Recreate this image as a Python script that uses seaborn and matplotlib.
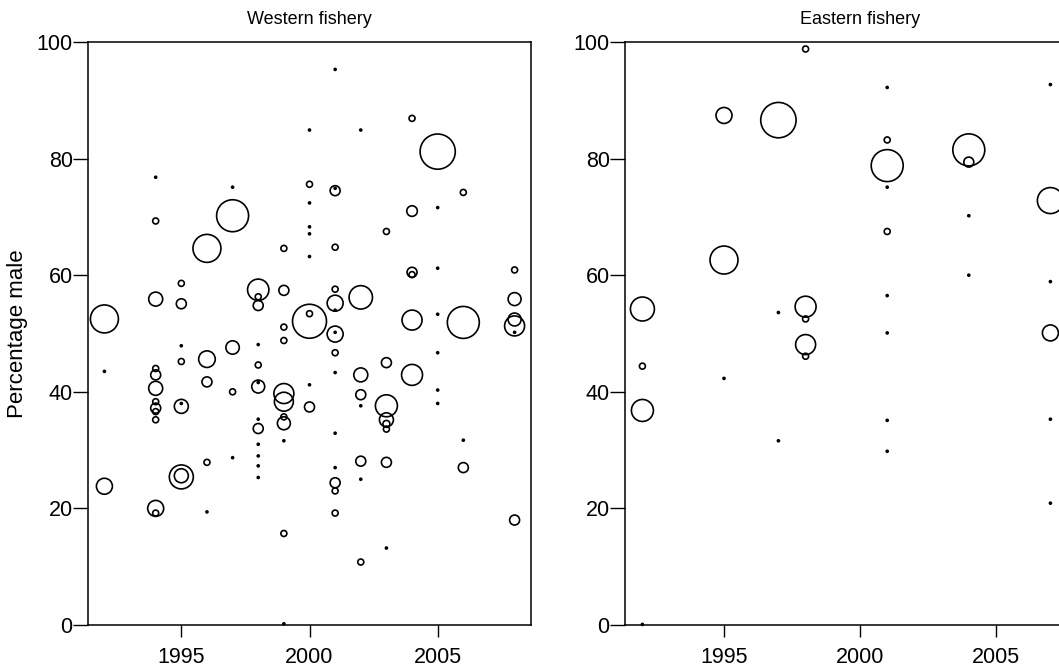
import numpy as np
import pandas as pd
import matplotlib
matplotlib.use("Agg")
import matplotlib.pyplot as plt
import seaborn as sns

# ---------------- data ----------------
west_year = [1992, 1992, 1992,
             1994, 1994, 1994, 1994, 1994, 1994, 1994, 1994, 1994, 1994, 1994, 1994,
             1995, 1995, 1995, 1995, 1995, 1995, 1995, 1995,
             1996, 1996, 1996, 1996, 1996,
             1997, 1997, 1997, 1997, 1997,
             1998, 1998, 1998, 1998, 1998, 1998, 1998, 1998, 1998, 1998, 1998, 1998, 1998,
             1999, 1999, 1999, 1999, 1999, 1999, 1999, 1999, 1999, 1999, 1999,
             2000, 2000, 2000, 2000, 2000, 2000, 2000, 2000, 2000, 2000,
             2001, 2001, 2001, 2001, 2001, 2001, 2001, 2001, 2001, 2001, 2001, 2001, 2001, 2001, 2001, 2001,
             2002, 2002, 2002, 2002, 2002, 2002, 2002, 2002,
             2003, 2003, 2003, 2003, 2003, 2003, 2003, 2003,
             2004, 2004, 2004, 2004, 2004, 2004,
             2005, 2005, 2005, 2005, 2005, 2005, 2005,
             2006, 2006, 2006, 2006,
             2008, 2008, 2008, 2008, 2008, 2008]
west_pct = [52.5, 43.5, 23.8,
            76.8, 69.3, 55.9, 44.0, 42.9, 40.6, 38.3, 37.2, 36.6, 35.2, 20.0, 19.2,
            58.6, 55.1, 47.9, 45.2, 37.5, 38.0, 25.4, 25.6,
            64.6, 45.6, 41.7, 27.9, 19.4,
            75.1, 70.2, 47.6, 40.0, 28.7,
            57.5, 56.3, 54.8, 48.1, 44.6, 41.6, 40.9, 35.3, 33.7, 31.0, 29.0, 27.3, 25.3,
            64.6, 57.4, 51.1, 48.8, 39.7, 38.3, 35.7, 34.6, 31.6, 15.7, 0.2,
            84.9, 75.6, 72.4, 68.3, 67.1, 63.2, 53.4, 52.1, 41.2, 37.4,
            95.3, 74.5, 74.9, 64.8, 57.6, 55.2, 54.0, 49.9, 50.2, 46.7, 43.3, 32.9, 27.0, 24.4, 23.0, 19.2,
            84.9, 56.2, 42.9, 39.5, 37.6, 28.1, 25.0, 10.8,
            67.5, 45.0, 37.6, 35.2, 34.5, 33.6, 27.9, 13.2,
            86.9, 71.0, 60.5, 60.1, 52.3, 42.9,
            81.2, 71.6, 61.2, 53.3, 46.7, 40.3, 38.0,
            74.2, 51.9, 31.7, 27.0,
            60.9, 55.9, 52.4, 51.3, 50.2, 18.0]
west_n = [196, 1, 64,
          1, 9, 49, 9, 25, 49, 9, 25, 9, 9, 64, 9,
          9, 25, 1, 9, 49, 1, 144, 49,
          196, 69, 25, 9, 1,
          1, 256, 45, 9, 1,
          114, 9, 25, 1, 9, 1, 42, 1, 25, 1, 1, 1, 1,
          9, 25, 9, 9, 100, 90, 9, 42, 1, 9, 1,
          1, 9, 1, 1, 1, 1, 9, 289, 1, 25,
          1, 25, 1, 9, 9, 64, 1, 64, 1, 9, 1, 1, 1, 25, 9, 9,
          1, 137, 49, 25, 1, 25, 1, 9,
          9, 25, 121, 49, 12, 9, 25, 1,
          9, 28, 25, 9, 100, 110,
          310, 1, 1, 1, 1, 1, 1,
          9, 256, 1, 25,
          9, 42, 42, 100, 1, 25]

east_year = [1992, 1992, 1992, 1992,
             1995, 1995, 1995,
             1997, 1997, 1997,
             1998, 1998, 1998, 1998, 1998,
             2001, 2001, 2001, 2001, 2001, 2001, 2001, 2001, 2001,
             2004, 2004, 2004, 2004,
             2007, 2007, 2007, 2007, 2007, 2007]
east_pct = [54.2, 44.4, 36.8, 0.1,
            87.4, 62.6, 42.3,
            86.6, 53.6, 31.6,
            98.8, 54.6, 52.5, 48.1, 46.1,
            92.2, 83.2, 78.8, 75.1, 67.5, 56.5, 50.1, 35.1, 29.8,
            81.5, 79.4, 70.2, 60.0,
            92.7, 72.8, 58.9, 50.1, 35.3, 20.9]
east_n = [144, 9, 121, 1,
          64, 196, 1,
          313, 1, 1,
          9, 110, 9, 100, 9,
          1, 9, 256, 1, 9, 1, 1, 1, 1,
          256, 25, 1, 1,
          1, 169, 1, 64, 1, 1]

panel_titles = ["Western fishery", "Eastern fishery"]
x_ticks = [1995, 2000, 2005]
y_ticks = [0, 20, 40, 60, 80, 100]
y_label = "Percentage male"

west = pd.DataFrame({"year": west_year, "pct": west_pct, "n": west_n})
east = pd.DataFrame({"year": east_year, "pct": east_pct, "n": east_n})

# ---------------- style ----------------
sns.set_style("ticks")
plt.rcParams["font.family"] = ["Liberation Sans", "DejaVu Sans"]
plt.rcParams["text.color"] = "black"
plt.rcParams["axes.labelcolor"] = "black"
plt.rcParams["xtick.color"] = "black"
plt.rcParams["ytick.color"] = "black"
plt.rcParams["axes.edgecolor"] = "black"

W, H = 1059, 669
fig = plt.figure(figsize=(W / 100, H / 100), dpi=100)
ax1 = fig.add_axes([88 / W, 44 / H, 443 / W, 583 / H])
ax2 = fig.add_axes([625 / W, 44 / H, 470 / W, 583 / H])

nmin = min(min(west_n), min(east_n))
nmax = max(max(west_n), max(east_n))
k = 2.07  # area per unit of n (pt^2)

for ax, df, title in [(ax1, west, panel_titles[0]), (ax2, east, panel_titles[1])]:
    sns.scatterplot(data=df, x="year", y="pct", size="n",
                    sizes=(k * nmin, k * nmax), size_norm=(nmin, nmax),
                    marker="o", facecolors="none", edgecolor="black",
                    linewidth=1.2, legend=False, ax=ax, clip_on=False)
    ax.set_xlim(1991.36, 2008.64)
    ax.set_ylim(0, 100)
    ax.set_xticks(x_ticks)
    ax.set_yticks(y_ticks)
    ax.tick_params(axis="x", direction="out", length=8.6, width=1.0,
                   pad=7, labelsize=15.5, colors="black")
    ax.tick_params(axis="y", direction="out", length=10.5, width=1.0,
                   pad=0.5, labelsize=15.5, colors="black")
    for sp in ax.spines.values():
        sp.set_visible(True)
        sp.set_linewidth(1.1)
        sp.set_color("black")
    ax.set_title(title, fontsize=13, pad=13, color="black")
    ax.set_xlabel("")
    ax.set_ylabel("")

ax1.set_ylabel(y_label, fontsize=16, labelpad=6, color="black")

fig.savefig("out.png", dpi=100, facecolor="white")
